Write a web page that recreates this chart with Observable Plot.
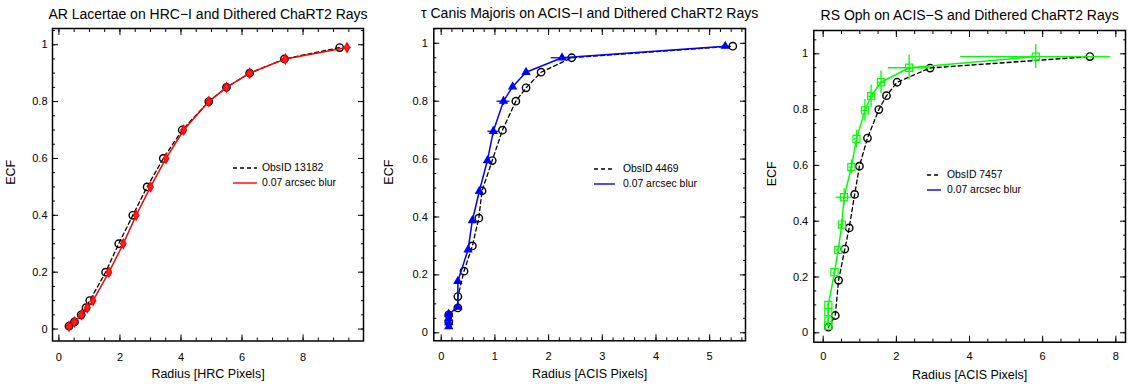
<!DOCTYPE html>
<html><head><meta charset="utf-8">
<script src="https://cdn.jsdelivr.net/npm/d3@7"></script>
<script src="https://cdn.jsdelivr.net/npm/@observablehq/plot@0.6"></script>
<style>
body{margin:0;background:#fff;}
#wrap{position:relative;width:1134px;height:389px;overflow:hidden;background:#fff;font-family:"Liberation Sans",Arial,Helvetica,sans-serif;}
.panel{position:absolute;top:0;}
.lrow{position:absolute;height:14px;line-height:14px;font-size:10.4px;color:#000;white-space:nowrap;}
.lrow svg{position:absolute;left:0;top:0;}
</style></head><body><div id="wrap"></div>
<script>
// ---------- Panel 1: AR Lacertae (HRC-I) ----------
const arEcf    = [0.01,0.025,0.05,0.075,0.1,0.2,0.3,0.4,0.5,0.6,0.7,0.8,0.85,0.9,0.95,0.99];
const arObsR   = [0.33,0.51,0.73,0.89,1.01,1.53,1.96,2.42,2.89,3.42,4.04,4.91,5.49,6.25,7.39,9.20];
const arSimR   = [0.33,0.51,0.74,0.93,1.12,1.64,2.11,2.53,3.00,3.51,4.09,4.91,5.49,6.25,7.42,9.44];
const arSimXerr= [0.02,0.03,0.04,0.05,0.05,0.06,0.07,0.08,0.08,0.09,0.10,0.10,0.10,0.10,0.12,0.14];
const arSimYerr= [0,0,0,0,0,0,0,0,0,0,0,0,0,0,0,0];

// ---------- Panel 2: tau Canis Majoris (ACIS-I) ----------
const cmaObsR   = [0.14,0.14,0.31,0.31,0.425,0.58,0.70,0.76,0.95,1.14,1.39,1.58,1.86,2.43,5.43];
const cmaObsEcf = [0.037,0.062,0.086,0.125,0.213,0.30,0.396,0.49,0.595,0.70,0.80,0.846,0.90,0.95,0.99];
const cmaSimR   = [0.14,0.14,0.14,0.14,0.31,0.31,0.50,0.58,0.71,0.86,0.97,1.16,1.33,1.58,2.25,5.29];
const cmaSimEcf = [0.022,0.035,0.05,0.065,0.089,0.178,0.287,0.388,0.489,0.595,0.696,0.80,0.85,0.90,0.95,0.99];
const cmaSimXerr= [0.01,0.01,0.01,0.01,0.01,0.01,0.02,0.02,0.02,0.03,0.10,0.12,0.03,0.03,0.20,0.05];
const cmaSimYerr= [0,0,0,0,0,0.01,0.01,0.01,0.01,0.01,0.015,0.015,0.01,0.01,0.01,0.01];

// ---------- Panel 3: RS Oph (ACIS-S) ----------
const rsObsR   = [0.14,0.33,0.42,0.59,0.71,0.86,0.99,1.21,1.52,1.73,2.02,2.92,7.29];
const rsObsEcf = [0.02,0.062,0.188,0.30,0.376,0.496,0.597,0.698,0.80,0.85,0.898,0.949,0.99];
const rsSimR   = [0.14,0.14,0.14,0.14,0.31,0.41,0.51,0.57,0.77,0.91,1.14,1.31,1.58,2.35,5.81];
const rsSimEcf = [0.026,0.044,0.074,0.10,0.217,0.297,0.388,0.486,0.594,0.695,0.797,0.848,0.898,0.95,0.99];
const rsSimXerr= [0.02,0.02,0.02,0.03,0.04,0.05,0.06,0.22,0.06,0.07,0.08,0.08,0.10,0.57,2.05];
const rsSimYerr= [0.005,0.006,0.008,0.01,0.012,0.015,0.018,0.03,0.025,0.031,0.039,0.04,0.04,0.045,0.043];

// ---------- Text & ticks ----------
const titles  = ["AR Lacertae on HRC−I and Dithered ChaRT2 Rays",
                 "τ Canis Majoris on ACIS−I and Dithered ChaRT2 Rays",
                 "RS Oph on ACIS−S and Dithered ChaRT2 Rays"];
const xLabels = ["Radius [HRC Pixels]","Radius [ACIS Pixels]","Radius [ACIS Pixels]"];
const yLabel  = "ECF";
const legendObs = ["ObsID 13182","ObsID 4469","ObsID 7457"];
const legendSim = "0.07 arcsec blur";
const yMajorTicks = [0,0.2,0.4,0.6,0.8,1];
const yMinorTicks = [-0.05,0,0.05,0.1,0.15,0.2,0.25,0.3,0.35,0.4,0.45,0.5,0.55,0.6,0.65,0.7,0.75,0.8,0.85,0.9,0.95,1,1.05];
const xMajor1 = [0,2,4,6,8];
const xMinor1 = [0,0.5,1,1.5,2,2.5,3,3.5,4,4.5,5,5.5,6,6.5,7,7.5,8,8.5,9,9.5];
const xMajor2 = [0,1,2,3,4,5];
const xMinor2 = [0,0.2,0.4,0.6,0.8,1,1.2,1.4,1.6,1.8,2,2.2,2.4,2.6,2.8,3,3.2,3.4,3.6,3.8,4,4.2,4.4,4.6,4.8,5,5.2,5.4,5.6];
const xMajor3 = [0,2,4,6,8];
const xMinor3 = [0,0.5,1,1.5,2,2.5,3,3.5,4,4.5,5,5.5,6,6.5,7,7.5,8];

function rows(r, ecf, xerr, yerr) {
  return r.map((v, i) => ({r: v, ecf: ecf[i], xerr: xerr ? xerr[i] : 0, yerr: yerr ? yerr[i] : 0}));
}

const FONT = '"Liberation Sans",Arial,Helvetica,sans-serif';
const fmt = d => String(d);

function panel(o) {
  const yMinorIn = yMinorTicks.filter(v => v >= o.yDomain[0] && v <= o.yDomain[1]);
  const marks = [
    Plot.axisX(o.xMajor, {anchor: "bottom", tickSize: -6, fill: "none", stroke: "black"}),
    Plot.axisX(o.xMinor, {anchor: "bottom", tickSize: -3, fill: "none", stroke: "black"}),
    Plot.axisX(o.xMajor, {anchor: "top", tickSize: -6, fill: "none", stroke: "black"}),
    Plot.axisX(o.xMinor, {anchor: "top", tickSize: -3, fill: "none", stroke: "black"}),
    Plot.axisY(yMajorTicks, {anchor: "left", tickSize: -6, fill: "none", stroke: "black"}),
    Plot.axisY(yMinorIn, {anchor: "left", tickSize: -3, fill: "none", stroke: "black"}),
    Plot.axisY(yMajorTicks, {anchor: "right", tickSize: -6, fill: "none", stroke: "black"}),
    Plot.axisY(yMinorIn, {anchor: "right", tickSize: -3, fill: "none", stroke: "black"}),
    Plot.axisX(o.xMajor, {anchor: "bottom", tickSize: 0, tickPadding: o.padX, fontSize: 11, fill: "black", label: null, tickFormat: fmt}),
    Plot.axisY(yMajorTicks, {anchor: "left", tickSize: 0, tickPadding: o.padY, fontSize: 11, fill: "black", label: null, tickFormat: fmt}),
    Plot.frame({stroke: "black", strokeWidth: 1.5}),
    Plot.text([o.title], {frameAnchor: "top", lineAnchor: "middle", dy: o.titleDy, fontSize: 14, fill: "black", text: d => d}),
    Plot.text([o.xlabel], {frameAnchor: "bottom", lineAnchor: "middle", dy: o.xlabDy, fontSize: 12.5, fill: "black", text: d => d}),
    Plot.text([yLabel], {frameAnchor: "left", lineAnchor: "middle", dx: o.ylabDx, rotate: -90, fontSize: 12.5, fill: "black", text: d => d}),
    Plot.line(o.obs, {x: "r", y: "ecf", stroke: "black", strokeWidth: 1.3, strokeDasharray: "4,3"}),
    Plot.dot(o.obs, {x: "r", y: "ecf", r: 3.7, stroke: "black", strokeWidth: 1.4, fill: "none"}),
    Plot.ruleY(o.sim, {y: "ecf", x1: d => d.r - d.xerr, x2: d => d.r + d.xerr, stroke: o.color, strokeWidth: 1.3}),
    Plot.ruleX(o.sim.filter(d => d.yerr > 0), {x: "r", y1: d => d.ecf - d.yerr, y2: d => d.ecf + d.yerr, stroke: o.color, strokeWidth: 1.3}),
    Plot.line(o.sim, {x: "r", y: "ecf", stroke: o.color, strokeWidth: 1.5}),
    Plot.dot(o.sim, {x: "r", y: "ecf", symbol: o.symbol, r: o.symR, stroke: o.color, strokeWidth: 1.2, fill: o.fill})
  ];
  const svg = Plot.plot({
    width: 378, height: 389,
    marginLeft: o.m[0], marginRight: o.m[1], marginTop: o.m[2], marginBottom: o.m[3],
    x: {domain: o.xDomain},
    y: {domain: o.yDomain},
    style: {background: "transparent", overflow: "visible", fontFamily: FONT, fontSize: "11px", color: "black"},
    marks
  });
  svg.setAttribute("class", (svg.getAttribute("class") || "") + " panel");
  svg.style.left = o.left + "px";
  svg.style.position = "absolute";
  svg.style.top = "0px";
  document.getElementById("wrap").appendChild(svg);
}

function legend(lx, ly, lineW, gap, items) {
  const wrap = d3.select("#wrap");
  items.forEach((it, i) => {
    const row = wrap.append("div").attr("class", "lrow")
      .style("left", lx + "px").style("top", (ly + i * 15 - 7) + "px");
    const s = row.append("svg").attr("width", lineW).attr("height", 14);
    s.append("line").attr("x1", 0).attr("x2", lineW).attr("y1", 7).attr("y2", 7)
      .attr("stroke", it.color).attr("stroke-width", 1.4)
      .attr("stroke-dasharray", it.dash ? "4,3" : null);
    row.append("span").style("position", "absolute").style("left", (lineW + gap) + "px").text(it.label);
  });
}

panel({left: 0, title: titles[0], xlabel: xLabels[0],
  xDomain: [-0.21, 9.98], yDomain: [-0.042, 1.057], m: [52, 15, 28, 48.5],
  xMajor: xMajor1, xMinor: xMinor1, padX: 12, padY: 5, titleDy: -14, xlabDy: 33, ylabDx: -42,
  obs: rows(arObsR, arEcf), sim: rows(arSimR, arEcf, arSimXerr, arSimYerr),
  color: "#ff0000", symbol: "diamond", symR: 2.9, fill: "#ff2020"});

panel({left: 378, title: titles[1], xlabel: xLabels[1],
  xDomain: [-0.138, 5.667], yDomain: [-0.0276, 1.051], m: [55.3, 11, 28, 48.7],
  xMajor: xMajor2, xMinor: xMinor2, padX: 11, padY: 6, titleDy: -14.7, xlabDy: 33, ylabDx: -45,
  obs: rows(cmaObsR, cmaObsEcf), sim: rows(cmaSimR, cmaSimEcf, cmaSimXerr, cmaSimYerr),
  color: "#0000ff", symbol: "triangle", symR: 2.7, fill: "#0000ff"});

panel({left: 756, title: titles[2], xlabel: xLabels[2],
  xDomain: [-0.257, 8.264], yDomain: [-0.0337, 1.0835], m: [57.3, 9, 30, 47.3],
  xMajor: xMajor3, xMinor: xMinor3, padX: 10, padY: 5.6, titleDy: -15, xlabDy: 32.5, ylabDx: -42,
  obs: rows(rsObsR, rsObsEcf), sim: rows(rsSimR, rsSimEcf, rsSimXerr, rsSimYerr),
  color: "#00ff00", symbol: "square", symR: 4, fill: "none"});

legend(233, 168, 24, 5, [{label: legendObs[0], color: "black", dash: true}, {label: legendSim, color: "#ff0000"}]);
legend(594, 169, 21, 8, [{label: legendObs[1], color: "black", dash: true}, {label: legendSim, color: "#0000ff"}]);
legend(927, 175, 14, 6, [{label: legendObs[2], color: "black", dash: true}, {label: legendSim, color: "#0000ff"}]);
</script>
</body></html>
